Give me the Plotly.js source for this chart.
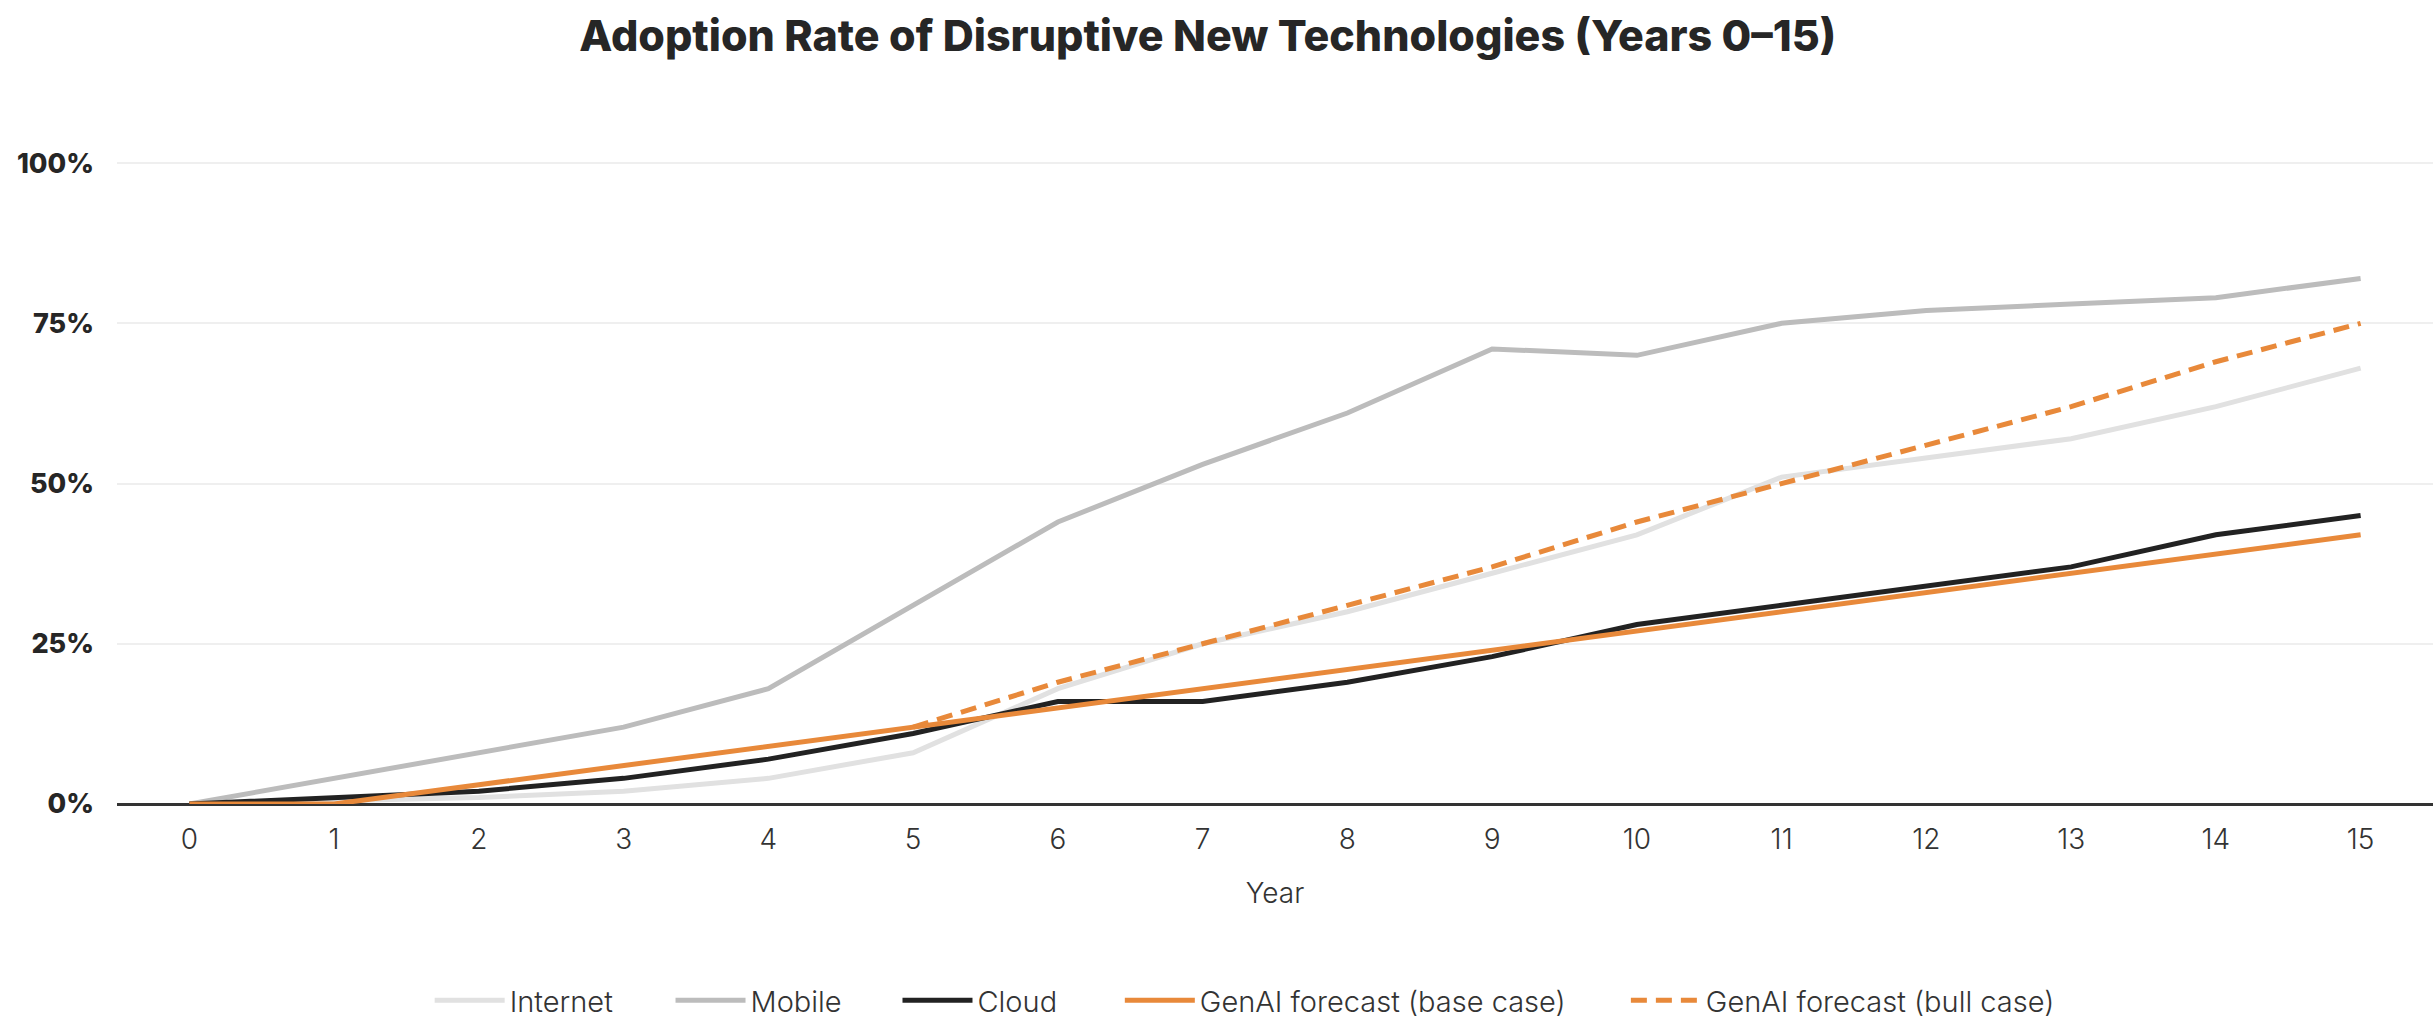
<!DOCTYPE html>
<html>
<head>
<meta charset="utf-8">
<script src="https://cdn.plot.ly/plotly-3.0.1.min.js"></script>
<style>
  html, body { margin: 0; padding: 0; background: #ffffff; }
  #chart { width: 2435px; height: 1028px; }
</style>
</head>
<body>
<div id="chart"></div>
<script>
const years = [0, 1, 2, 3, 4, 5, 6, 7, 8, 9, 10, 11, 12, 13, 14, 15];
const internet = [0, 0.5, 1, 2, 4, 8, 18, 25, 30, 36, 42, 51, 54, 57, 62, 68];
const mobile = [0, 4, 8, 12, 18, 31, 44, 53, 61, 71, 70, 75, 77, 78, 79, 82];
const cloud = [0, 1, 2, 4, 7, 11, 16, 16, 19, 23, 28, 31, 34, 37, 42, 45];
const genaiBase = [0, 0, 3, 6, 9, 12, 15, 18, 21, 24, 27, 30, 33, 36, 39, 42];
const bullYears = [5, 6, 7, 8, 9, 10, 11, 12, 13, 14, 15];
const genaiBull = [12, 19, 25, 31, 37, 44, 50, 56, 62, 69, 75];
const yTicks = [0, 25, 50, 75, 100];
const yTickLabels = ['0%', '25%', '50%', '75%', '100%'];
const seriesNames = ['Internet', 'Mobile', 'Cloud', 'GenAI forecast (base case)', 'GenAI forecast (bull case)'];

const FONT = 'Inter, "Noto Sans", "DejaVu Sans", sans-serif';
const ORANGE = '#e8893a';

const traces = [
  { x: years, y: internet, name: seriesNames[0], mode: 'lines', legend: 'legend',
    line: { color: '#e1e1e1', width: 5 } },
  { x: years, y: mobile, name: seriesNames[1], mode: 'lines', legend: 'legend2',
    line: { color: '#bcbcbc', width: 5 } },
  { x: years, y: cloud, name: seriesNames[2], mode: 'lines', legend: 'legend3',
    line: { color: '#222222', width: 5 } },
  { x: years, y: genaiBase, name: seriesNames[3], mode: 'lines', legend: 'legend4',
    line: { color: ORANGE, width: 5 } },
  { x: bullYears, y: genaiBull, name: seriesNames[4], mode: 'lines', legend: 'legend5',
    line: { color: ORANGE, width: 5, dash: '16px,9px' } }
];

// legend entry positions (paper fraction across the plot width)
const legendX = [0.135, 0.239, 0.337, 0.433, 0.6515];
function legendCfg(x) {
  return {
    orientation: 'h', x: x, xanchor: 'left', y: -0.2785, yanchor: 'middle',
    font: { family: FONT, size: 29, weight: 300, color: '#333333' },
    itemwidth: 70, bgcolor: 'rgba(0,0,0,0)'
  };
}

const layout = {
  width: 2435, height: 1028,
  paper_bgcolor: '#ffffff', plot_bgcolor: '#ffffff',
  margin: { l: 117, r: 2, t: 99, b: 222 },
  title: {
    text: 'Adoption Rate of Disruptive New Technologies (Years 0–15)',
    x: 0.496, xanchor: 'center', y: 0.965, yanchor: 'middle',
    font: { family: FONT, size: 43, weight: 800, color: '#262626' }
  },
  xaxis: {
    range: [-0.5, 15.5], tickmode: 'array', tickvals: years,
    ticks: '', showgrid: false, zeroline: false,
    showline: false,
    ticklabelstandoff: 16,
    tickfont: { family: FONT, size: 28, weight: 300, color: '#333333' },
    title: { text: 'Year', standoff: 28,
      font: { family: FONT, size: 28, weight: 300, color: '#333333' } }
  },
  yaxis: {
    range: [0, 110], tickmode: 'array', tickvals: yTicks, ticktext: yTickLabels,
    ticks: '', showgrid: true, gridcolor: '#efefef', gridwidth: 2,
    zeroline: true, zerolinecolor: '#333333', zerolinewidth: 3,
    showline: false, ticklabelstandoff: 22,
    tickfont: { family: FONT, size: 27, weight: 800, color: '#262626' }
  },
  showlegend: true,
  legend: legendCfg(legendX[0]),
  legend2: legendCfg(legendX[1]),
  legend3: legendCfg(legendX[2]),
  legend4: legendCfg(legendX[3]),
  legend5: legendCfg(legendX[4])
};

Plotly.newPlot('chart', traces, layout, { displayModeBar: false, staticPlot: true });
</script>
</body>
</html>
